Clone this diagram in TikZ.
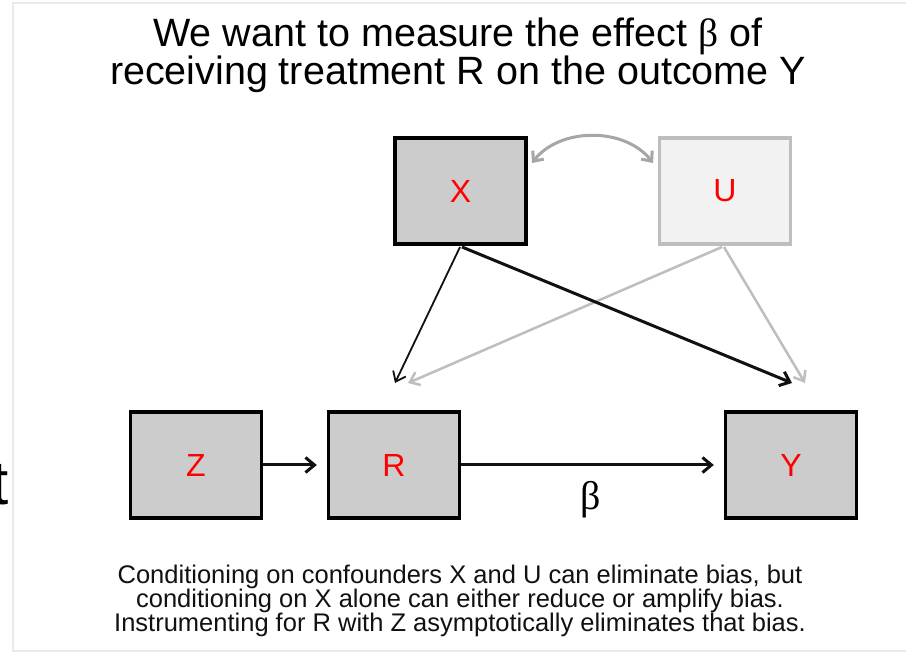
\documentclass[tikz,border=0pt]{standalone}
\usepackage{fontspec}
\setmainfont{Liberation Sans}
\newfontfamily\serifgr{Liberation Serif}
\usetikzlibrary{arrows.meta}
\definecolor{boxgray}{HTML}{CCCCCC}
\definecolor{ufill}{HTML}{F2F2F2}
\definecolor{ugray}{HTML}{BEBEBE}
\definecolor{curvegray}{HTML}{A6A6A6}
\definecolor{panelline}{HTML}{E6EBF0}
\definecolor{txtdark}{HTML}{111111}
\tikzset{
  vbox/.style={draw=black, line width=3.4pt, fill=boxgray, minimum width=131pt, minimum height=106pt, inner sep=0pt, text=red, font=\fontsize{32}{32}\selectfont},
  ubox/.style={vbox, draw=ugray, fill=ufill},
  arr/.style={-{Straight Barb[length=9pt,width=15pt]}, line width=3pt, draw=txtdark},
  thinarr/.style={-{Straight Barb[length=9pt,width=14pt]}, line width=1.8pt, draw=txtdark},
  grayarr/.style={-{Straight Barb[length=9pt,width=14pt]}, line width=2.5pt, draw=ugray},
  curvearr/.style={{Straight Barb[length=8pt,width=14pt]}-{Straight Barb[length=8pt,width=14pt]}, line width=3pt, draw=curvegray},
}
\begin{document}
\begin{tikzpicture}[x=1pt,y=-1pt]
\useasboundingbox (0,0) rectangle (906,652);
\fill[white] (0,0) rectangle (906,652);
% panel border
\draw[panelline, line width=1.5pt] (906,3) -- (13,3) -- (13,651) -- (906,651);
% cut-off letter at left
\node[anchor=base east, inner sep=0pt, font=\fontsize{62}{62}\selectfont] (tcut) at (9,505) {t};
% title
\node[align=center, inner sep=0pt, font=\fontsize{39.5}{35}\selectfont] (title) at (458,55)
  {We want to measure the effect {\serifgr β} of\\receiving treatment R on the outcome Y};
% boxes
\node[vbox] (X) at (460.5,191) {X};
\node[ubox] (U) at (725,191) {U};
\node[vbox] (Z) at (196,465) {Z};
\node[vbox] (R) at (394,465) {R};
\node[vbox] (Y) at (791,465) {Y};
% arrow endpoints
\coordinate (xs1) at (460,247);
\coordinate (xs2) at (462,247);
\coordinate (us1) at (722,247);
\coordinate (us2) at (724,247);
\coordinate (rin1) at (395,383);
\coordinate (rin2) at (408,383);
\coordinate (yin1) at (792,383);
\coordinate (yin2) at (805,383);
\coordinate (xu1) at (532,163);
\coordinate (xu2) at (653,163);
% connectors
\draw[curvearr] (xu1) .. controls (560,127) and (625,127) .. (xu2);
\draw[grayarr] (us1) -- (rin2);
\draw[grayarr] (us2) -- (yin2);
\draw[thinarr] (xs1) -- (rin1);
\draw[arr] (xs2) -- (yin1);
\draw[arr] (Z.east) -- ([xshift=-10pt]R.west);
\draw[arr] (R.east) -- ([xshift=-10pt]Y.west);
\node[inner sep=0pt, font=\serifgr\fontsize{40}{40}\selectfont, text=black] (beta) at (591,500) {β};
% caption
\node[align=center, inner sep=0pt, font=\fontsize{25.5}{24}\selectfont, text=txtdark] (cap) at (460,601)
  {Conditioning on confounders X and U can eliminate bias, but\\conditioning on X alone can either reduce or amplify bias.\\Instrumenting for R with Z asymptotically eliminates that bias.};
\end{tikzpicture}
\end{document}
